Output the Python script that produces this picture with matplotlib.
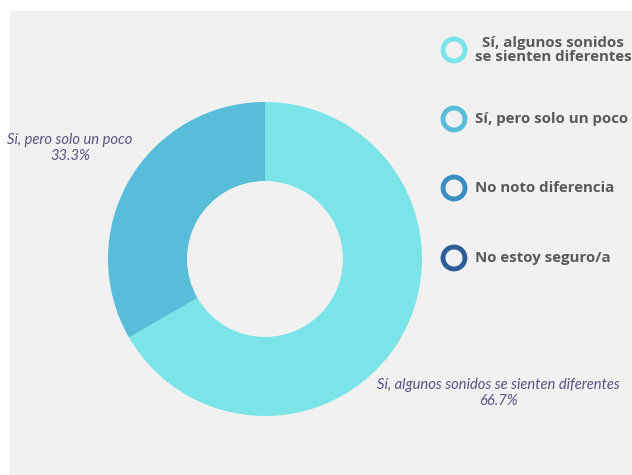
import matplotlib.pyplot as plt
from matplotlib.patches import Rectangle

categorias = ['Sí, algunos sonidos\nse sienten diferentes', 'Sí, pero solo un poco',
              'No noto diferencia', 'No estoy seguro/a']
etiquetas = ['Sí, algunos sonidos se sienten diferentes', 'Sí, pero solo un poco']
respuestas = [2, 1, 0, 0]
colores = ['#7BE4E8', '#58BDD8', '#3A8EC0', '#2E5D99']

fig = plt.figure(figsize=(6.32, 4.75), dpi=100)
fig.patch.set_facecolor('white')
fig.patches.append(Rectangle((10, 0), 622, 464, transform=None,
                             facecolor='#F1F1F1', edgecolor='none', zorder=-5))

# axes in pixel units so the layout is easy to place
ax = fig.add_axes([0, 0, 1, 1], zorder=2)
ax.patch.set_alpha(0)

valores = [v for v in respuestas if v > 0]
ax.pie(valores, colors=colores[:len(valores)], startangle=90, counterclock=False,
       center=(265, 216), radius=157, frame=True,
       wedgeprops=dict(width=79, edgecolor='none'))
ax.set_xlim(0, 632)
ax.set_ylim(0, 475)
ax.set_aspect('equal')
ax.axis('off')

total = sum(respuestas)
pos_etiquetas = [(498, 82), (70, 327)]
for nombre, v, (x, y) in zip(etiquetas, valores, pos_etiquetas):
    ax.text(x, y, f'{nombre}\n{v / total * 100:.1f}%', ha='center', va='center',
            fontsize=10.6, style='italic', color='#555582', family='Lato',
            linespacing=1.15)

# leyenda a la derecha con marcadores de anillo
ys = [425, 356, 287, 217]
for cat, c, y in zip(categorias, colores, ys):
    ax.scatter([454], [y], s=250, facecolors='none', edgecolors=c, linewidths=3.5)
    ax.text(475, y, cat, ha='left', va='center', fontsize=10.8, fontweight='bold',
            color='#595959', family='Open Sans', multialignment='center',
            linespacing=1.0)

plt.savefig('out.png', dpi=100, facecolor=fig.get_facecolor())
